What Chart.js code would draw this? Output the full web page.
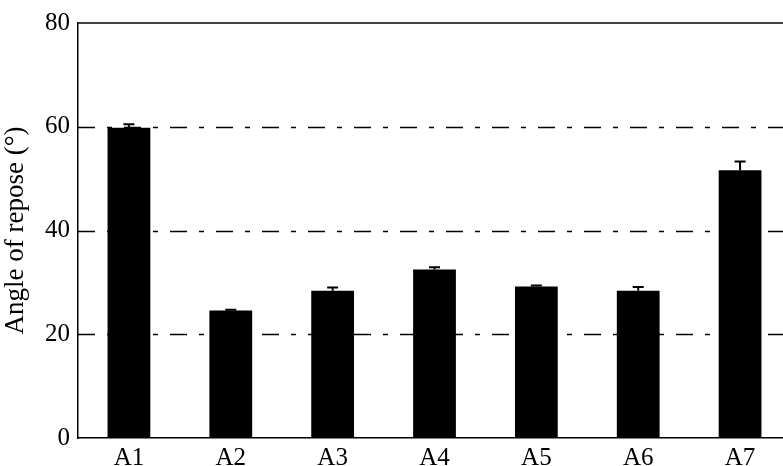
<!DOCTYPE html>
<html>
<head>
<meta charset="utf-8">
<script src="https://cdn.jsdelivr.net/npm/chart.js@4/dist/chart.umd.min.js"></script>
<style>
  html, body { margin: 0; padding: 0; background: #fff; overflow: hidden; }
  #wrap { position: relative; width: 791px; height: 466px; }
</style>
</head>
<body>
<div id="wrap"><canvas id="chart"></canvas></div>
<script>
// Samples and their measured angle of repose (degrees) with standard deviation
const samples = ['A1', 'A2', 'A3', 'A4', 'A5', 'A6', 'A7'];
const angleMean = [59.8, 24.6, 28.4, 32.5, 29.2, 28.4, 51.6];
const angleSd = [0.7, 0.1, 0.6, 0.4, 0.2, 0.7, 1.7];
const yTicks = [0, 20, 40, 60, 80];

const serif = '"Liberation Serif", "Times New Roman", serif';

// Dash-dot reference lines behind the bars, plus the solid frame line at the top
const refLines = {
  id: 'refLines',
  beforeDatasetsDraw(chart) {
    const { ctx, chartArea: a, scales: { y } } = chart;
    ctx.save();
    ctx.strokeStyle = '#000';
    ctx.lineWidth = 1.3;
    yTicks.forEach(v => {
      if (v === 0 || v === 80) return;
      const py = Math.round(y.getPixelForValue(v)) + 0.5;
      ctx.setLineDash([17, 12, 5, 12]);
      ctx.beginPath();
      ctx.moveTo(a.left, py);
      ctx.lineTo(a.right, py);
      ctx.stroke();
    });
    ctx.setLineDash([]);
    ctx.lineWidth = 1.5;
    const top = y.getPixelForValue(80);
    ctx.beginPath();
    ctx.moveTo(a.left, top);
    ctx.lineTo(a.right, top);
    ctx.stroke();
    ctx.restore();
  }
};

// Error bars (mean + SD) drawn on top of each bar
const errorBars = {
  id: 'errorBars',
  afterDatasetsDraw(chart) {
    const { ctx, scales: { x, y } } = chart;
    ctx.save();
    ctx.strokeStyle = '#000';
    ctx.lineWidth = 2;
    angleMean.forEach((m, i) => {
      const px = x.getPixelForValue(i);
      const y0 = y.getPixelForValue(m);
      const y1 = y.getPixelForValue(m + angleSd[i]);
      ctx.beginPath();
      ctx.moveTo(px, y0);
      ctx.lineTo(px, y1);
      ctx.moveTo(px - 5.5, y1);
      ctx.lineTo(px + 5.5, y1);
      ctx.stroke();
    });
    ctx.restore();
  }
};

new Chart(document.getElementById('chart'), {
  type: 'bar',
  data: {
    labels: samples,
    datasets: [{
      data: angleMean,
      backgroundColor: '#000',
      borderWidth: 0,
      barPercentage: 0.42,
      categoryPercentage: 1
    }]
  },
  options: {
    responsive: true,
    maintainAspectRatio: false,
    animation: false,
    layout: { padding: { top: 21, right: 0, left: 0, bottom: 0 } },
    plugins: { legend: { display: false }, tooltip: { enabled: false } },
    scales: {
      x: {
        grid: { display: false, drawTicks: false },
        border: { display: true, color: '#000', width: 1.5 },
        ticks: {
          color: '#000',
          padding: 5,
          font: { family: serif, size: 25 }
        },
        afterFit(s) { s.height = 28; }
      },
      y: {
        min: 0,
        max: 80,
        afterBuildTicks(s) { s.ticks = yTicks.map(v => ({ value: v })); },
        grid: { display: false, drawTicks: false },
        border: { display: true, color: '#000', width: 1.5 },
        ticks: {
          color: '#000',
          padding: 8,
          font: { family: serif, size: 25 }
        },
        title: {
          display: true,
          text: 'Angle of repose (°)',
          color: '#000',
          padding: { top: 0, bottom: 4 },
          font: { family: serif, size: 27 }
        },
        afterFit(s) { s.width = 78; }
      }
    }
  },
  plugins: [refLines, errorBars]
});
</script>
</body>
</html>
